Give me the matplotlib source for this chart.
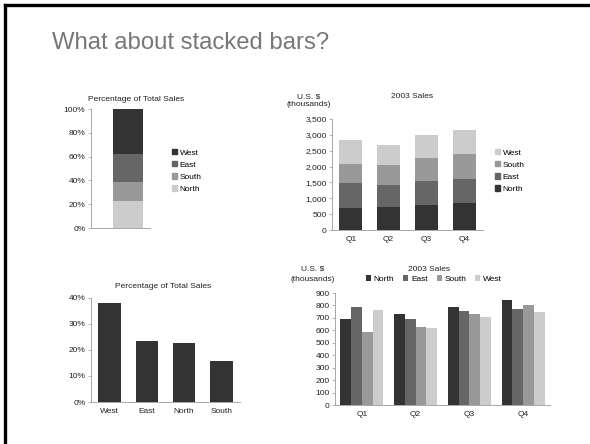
import matplotlib
matplotlib.use("Agg")
import matplotlib.pyplot as plt
from matplotlib.patches import Patch
from matplotlib.lines import Line2D
from matplotlib.ticker import FuncFormatter
import numpy as np

plt.rcParams["font.family"] = ["Liberation Sans", "DejaVu Sans"]

# ── data ──
QUARTERS = ["Q1", "Q2", "Q3", "Q4"]
REGIONS = ["North", "East", "South", "West"]
SALES = {
    "North": [690, 735, 785, 840],
    "East": [790, 690, 755, 770],
    "South": [590, 630, 735, 800],
    "West": [765, 620, 710, 750],
}
PCT_REGIONS = ["West", "East", "North", "South"]
PCT_VALUES = [38.0, 23.3, 22.8, 15.8]
STACK100_ORDER = ["North", "South", "East", "West"]

QCOLORS = {"North": "#333333", "East": "#666666", "South": "#999999", "West": "#cccccc"}
PCOLORS = {"West": "#333333", "East": "#666666", "South": "#999999", "North": "#cccccc"}

W, H = 590, 444
FS = 6.0
TXT = "#222222"
AXC = "#999999"

fig = plt.figure(figsize=(W / 100, H / 100), dpi=100)
fig.patch.set_facecolor("white")


def px_axes(x0, y_top, x1, y_bot):
    return fig.add_axes([x0 / W, 1 - y_bot / H, (x1 - x0) / W, (y_bot - y_top) / H])


def style(ax):
    for s in ["top", "right"]:
        ax.spines[s].set_visible(False)
    for s in ["left", "bottom"]:
        ax.spines[s].set_color(AXC)
        ax.spines[s].set_linewidth(0.6)
    ax.tick_params(labelsize=FS, colors=AXC, labelcolor=TXT, length=2, width=0.5, pad=2)


def ftext(x, y, s, **kw):
    fig.text(x / W, 1 - y / H, s, fontsize=FS, color=TXT, **kw)


# slide border + title
fig.add_artist(Line2D([5 / W, 1], [1 - 5 / H, 1 - 5 / H], color="black", lw=2.4))
fig.add_artist(Line2D([5 / W, 5 / W], [0, 1 - 5 / H], color="black", lw=2.4))
fig.text(52 / W, 1 - 43 / H, "What about stacked bars?", fontsize=17.2, color="#777777",
         va="center", ha="left")

# ── 1. 100% stacked single bar ──
ax = px_axes(91, 109, 150, 228)
bottom = 0
for r in STACK100_ORDER:
    v = PCT_VALUES[PCT_REGIONS.index(r)]
    ax.bar(0, v, 0.51, bottom=bottom, color=PCOLORS[r])
    bottom += v
ax.set_xlim(-0.63, 0.37)
ax.set_ylim(0, 100)
ax.set_yticks(np.arange(0, 101, 20))
ax.yaxis.set_major_formatter(FuncFormatter(lambda v, p: f"{v:.0f}%"))
ax.set_xticks([])
style(ax)
ftext(136, 99, "Percentage of Total Sales", ha="center", va="center")
ax.legend(handles=[Patch(color=PCOLORS[r], label=r) for r in reversed(STACK100_ORDER)],
          loc="center left", bbox_to_anchor=(168 / W, 1 - 171 / H), bbox_transform=fig.transFigure,
          frameon=False, fontsize=FS, handlelength=0.6, handleheight=0.6, handletextpad=0.3,
          labelspacing=0.55, borderpad=0)

# ── 2. stacked quarterly ──
ax = px_axes(332, 119, 483, 230)
x = np.arange(len(QUARTERS))
bottom = np.zeros(len(QUARTERS))
for r in REGIONS:
    ax.bar(x, SALES[r], 0.61, bottom=bottom, color=QCOLORS[r])
    bottom += np.array(SALES[r])
ax.set_xlim(-0.5, 3.5)
ax.set_ylim(0, 3500)
ax.set_yticks(np.arange(0, 3501, 500))
ax.yaxis.set_major_formatter(FuncFormatter(lambda v, p: f"{v:,.0f}"))
ax.set_xticks(x)
ax.set_xticklabels(QUARTERS)
style(ax)
ax.tick_params(axis="x", length=0, pad=4)
ftext(412, 97, "2003 Sales", ha="center", va="center")
ftext(309, 97, "U.S. $", ha="center", va="center")
ftext(309, 105, "(thousands)", ha="center", va="center")
ax.legend(handles=[Patch(color=QCOLORS[r], label=r) for r in reversed(REGIONS)],
          loc="center left", bbox_to_anchor=(491 / W, 1 - 171 / H), bbox_transform=fig.transFigure,
          frameon=False, fontsize=FS, handlelength=0.6, handleheight=0.6, handletextpad=0.3,
          labelspacing=0.55, borderpad=0)

# ── 3. percentage bars ──
ax = px_axes(91, 298, 240, 402)
x = np.arange(len(PCT_REGIONS))
ax.bar(x, PCT_VALUES, 0.6, color="#333333")
ax.set_xlim(-0.5, 3.5)
ax.set_ylim(0, 40)
ax.set_yticks(np.arange(0, 41, 10))
ax.yaxis.set_major_formatter(FuncFormatter(lambda v, p: f"{v:.0f}%"))
ax.set_xticks(x)
ax.set_xticklabels(PCT_REGIONS)
style(ax)
ax.tick_params(axis="x", length=0, pad=4)
ftext(163, 286, "Percentage of Total Sales", ha="center", va="center")

# ── 4. clustered quarterly ──
ax = px_axes(335, 293, 550, 405)
x = np.arange(len(QUARTERS))
bw = 0.2
for i, r in enumerate(REGIONS):
    ax.bar(x + (i - 1.5) * bw, SALES[r], bw, color=QCOLORS[r], label=r)
ax.set_xlim(-0.5, 3.5)
ax.set_ylim(0, 900)
ax.set_yticks(np.arange(0, 901, 100))
ax.set_xticks(x)
ax.set_xticklabels(QUARTERS)
style(ax)
ax.tick_params(axis="x", length=0, pad=4)
ftext(429, 269, "2003 Sales", ha="center", va="center")
ftext(313, 269, "U.S. $", ha="center", va="center")
ftext(313, 279, "(thousands)", ha="center", va="center")
ax.legend(loc="center", bbox_to_anchor=(434 / W, 1 - 279 / H), bbox_transform=fig.transFigure,
          ncol=4, frameon=False, fontsize=FS, handlelength=0.6, handleheight=0.6,
          handletextpad=0.3, columnspacing=1.1, borderpad=0)

fig.savefig("out.png", dpi=100)
